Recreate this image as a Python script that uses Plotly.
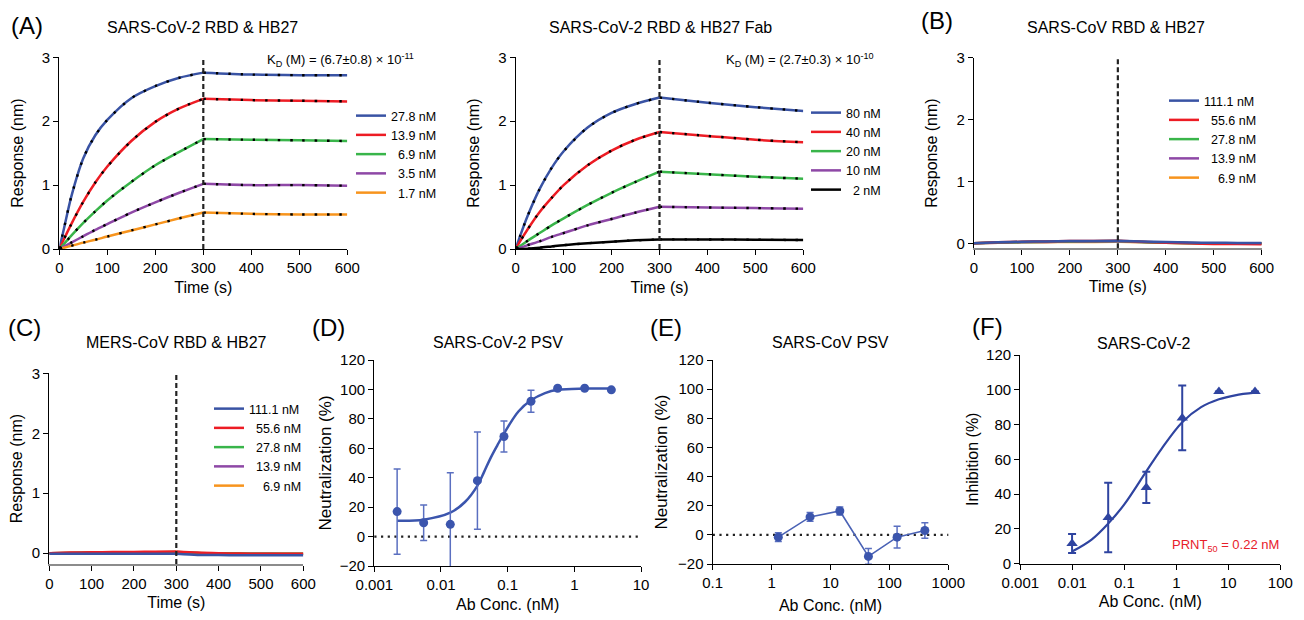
import plotly.graph_objects as go

W, H = 1304, 620
OX, OY = 8, 8  # page body margin of the exported html
FONT = "Arial, 'Liberation Sans', sans-serif"

# ---------------- data: binding kinetics ----------------
T_KIN = [0, 10, 25, 50, 75, 100, 150, 200, 250, 300, 400, 500, 600]
DISSOC_START = 300

A1_LABELS = ["27.8 nM", "13.9 nM", "\u00a0\u00a06.9 nM", "\u00a0\u00a03.5 nM", "\u00a0\u00a01.7 nM"]
A1_BLUE = [0, 0.33, 0.82, 1.42, 1.78, 2.02, 2.36, 2.55, 2.68, 2.76, 2.73, 2.72, 2.72]
A1_RED = [0, 0.16, 0.39, 0.74, 1.04, 1.29, 1.69, 1.99, 2.20, 2.35, 2.33, 2.32, 2.31]
A1_GREEN = [0, 0.08, 0.21, 0.41, 0.59, 0.76, 1.05, 1.31, 1.52, 1.72, 1.71, 1.70, 1.69]
A1_PURPLE = [0, 0.04, 0.10, 0.20, 0.30, 0.39, 0.57, 0.73, 0.88, 1.02, 1.00, 1.00, 0.99]
A1_ORANGE = [0, 0.02, 0.05, 0.10, 0.145, 0.195, 0.29, 0.385, 0.48, 0.57, 0.55, 0.54, 0.54]

FAB_LABELS = ["80 nM", "40 nM", "20 nM", "10 nM", "\u00a0\u00a02 nM"]
FAB_BLUE = [0, 0.22, 0.52, 0.94, 1.27, 1.53, 1.90, 2.13, 2.27, 2.37, 2.29, 2.22, 2.16]
FAB_RED = [0, 0.13, 0.31, 0.58, 0.80, 1.00, 1.31, 1.54, 1.71, 1.83, 1.77, 1.71, 1.67]
FAB_GREEN = [0, 0.05, 0.13, 0.25, 0.37, 0.48, 0.69, 0.88, 1.05, 1.21, 1.17, 1.13, 1.10]
FAB_PURPLE = [0, 0.02, 0.06, 0.12, 0.19, 0.25, 0.37, 0.47, 0.57, 0.66, 0.65, 0.64, 0.63]
FAB_BLACK = [0, 0.0, 0.005, 0.02, 0.04, 0.06, 0.09, 0.115, 0.135, 0.15, 0.15, 0.145, 0.14]

T_NB = [0, 50, 100, 150, 200, 250, 300, 350, 400, 450, 500, 550, 600]
NB_LABELS = ["111.1 nM", "\u00a0\u00a055.6 nM", "\u00a0\u00a027.8 nM", "\u00a0\u00a013.9 nM", "\u00a0\u00a0\u00a0\u00a06.9 nM"]
B_BLUE = [0, 0.015, 0.025, 0.03, 0.035, 0.037, 0.04, 0.03, 0.02, 0.012, 0.008, 0.006, 0.005]
B_RED = [0, 0.015, 0.025, 0.03, 0.035, 0.038, 0.04, 0.025, 0.01, 0.0, -0.01, -0.012, -0.015]
B_GREEN = [0, 0.012, 0.02, 0.025, 0.03, 0.032, 0.035, 0.02, 0.01, 0.002, -0.003, -0.005, -0.005]
B_PURPLE = [0, 0.01, 0.018, 0.022, 0.025, 0.027, 0.03, 0.02, 0.01, 0.005, 0.0, 0.0, 0.0]
B_ORANGE = [0, 0.008, 0.015, 0.018, 0.02, 0.022, 0.025, 0.015, 0.008, 0.003, 0.0, 0.0, 0.0]

C_BLUE = [-0.01, -0.01, -0.01, -0.01, -0.01, -0.01, -0.01, -0.03, -0.03, -0.035, -0.035, -0.035, -0.035]
C_RED = [0, 0.01, 0.015, 0.02, 0.022, 0.025, 0.03, 0.01, 0.0, -0.005, -0.01, -0.01, -0.01]
C_GREEN = [0, 0.005, 0.01, 0.012, 0.015, 0.017, 0.02, 0.005, 0.0, -0.005, -0.01, -0.01, -0.01]
C_PURPLE = [0, 0.005, 0.008, 0.01, 0.012, 0.014, 0.015, 0.0, -0.005, -0.01, -0.01, -0.012, -0.012]
C_ORANGE = [0, 0.003, 0.005, 0.008, 0.01, 0.01, 0.012, 0.0, -0.005, -0.008, -0.01, -0.01, -0.01]

# ---------------- data: neutralization ----------------
D_CONC = [0.0022, 0.0055, 0.0138, 0.0352, 0.088, 0.224, 0.562, 1.43, 3.59]
D_MEAN = [17, 9.4, 8.3, 38, 68, 92, 100.8, 100.8, 99.7]
D_ERR = [29, 12, 35, 33, 10.5, 7.5, 0, 0, 0]
D_FIT_X = [0.0022, 0.0055, 0.0138, 0.0229, 0.0351, 0.0442, 0.0556, 0.07, 0.088, 0.145, 0.224, 0.363, 0.562, 1.43, 3.59]
D_FIT_Y = [10.8, 11.5, 16.2, 23.5, 34.5, 43.8, 53.5, 62.0, 70.0, 85.0, 92.6, 97.5, 99.8, 100.6, 100.6]

E_CONC = [1.3, 4.5, 14.4, 44, 135, 400]
E_MEAN = [-1.6, 12.3, 16.4, -14.8, -1.6, 3]
E_ERR = [3, 3, 2.8, 5.4, 7.5, 5.3]

F_CONC = [0.0099, 0.049, 0.265, 1.3, 6.6, 32.6]
F_MEAN = [11.5, 26.5, 43.8, 83.8, 99, 99]
F_ERR = [5.5, 20, 9, 18.6, 0, 0]
F_FIT_X = [0.0099, 0.0235, 0.049, 0.1, 0.265, 0.52, 1.3, 3.0, 6.6, 13.5, 32.6]
F_FIT_Y = [6.9, 13.8, 23.0, 34.0, 53.0, 66.0, 81.3, 90.0, 94.5, 96.8, 98.3]

LOG_TICKS_D = [0.001, 0.01, 0.1, 1, 10]
LOG_TICKS_E = [0.1, 1, 10, 100, 1000]
LOG_TICKS_F = [0.001, 0.01, 0.1, 1, 10, 100]

# ---------------- styles ----------------
KIN_COLORS = ["#3953a4", "#ed1c24", "#39b54a", "#8e48a6", "#f7941d"]
FAB_COLORS = ["#3953a4", "#ed1c24", "#39b54a", "#8e48a6", "#000000"]
NEUT_BLUE = "#3b55ad"
ERR_BLUE = "#5a6fc0"
F_BLUE = "#2f44a0"


def fx(px):
    return (px - OX) / W


def fy(py):
    return 1 - (py - OY) / H


fig = go.Figure()


def add_kinetics(xa, ya, t, series, labels, colors, legend, fit=True, reverse_draw=False):
    i = t.index(DISSOC_START)
    order = list(range(len(series)))
    if reverse_draw:
        order = order[::-1]
    for k in order:
        vals = series[k]
        for phase, (ts, vs) in enumerate([(t[:i + 1], vals[:i + 1]), (t[i:], vals[i:])]):
            fig.add_trace(go.Scatter(
                x=ts, y=vs, mode="lines", name=labels[k], legend=legend,
                showlegend=(phase == 0), legendrank=k + 1,
                line=dict(color=colors[k], width=2.5, shape="spline", smoothing=0.8),
                xaxis=xa, yaxis=ya, hoverinfo="skip"))
    if fit:
        for k in order:
            vals = series[k]
            for ts, vs in [(t[:i + 1], vals[:i + 1]), (t[i:], vals[i:])]:
                fig.add_trace(go.Scatter(
                    x=ts, y=vs, mode="lines", showlegend=False,
                    line=dict(color="black", width=2.4, dash="2.4px,10px", shape="spline", smoothing=0.8),
                    xaxis=xa, yaxis=ya, hoverinfo="skip"))


add_kinetics("x", "y", T_KIN, [A1_BLUE, A1_RED, A1_GREEN, A1_PURPLE, A1_ORANGE], A1_LABELS, KIN_COLORS, "legend")
add_kinetics("x2", "y2", T_KIN, [FAB_BLUE, FAB_RED, FAB_GREEN, FAB_PURPLE, FAB_BLACK], FAB_LABELS, FAB_COLORS, "legend2")
add_kinetics("x3", "y3", T_NB, [B_BLUE, B_RED, B_GREEN, B_PURPLE, B_ORANGE], NB_LABELS, KIN_COLORS, "legend3",
             fit=False, reverse_draw=True)
add_kinetics("x4", "y4", T_NB, [C_BLUE, C_RED, C_GREEN, C_PURPLE, C_ORANGE], NB_LABELS, KIN_COLORS, "legend4",
             fit=False, reverse_draw=True)

# (D)
fig.add_trace(go.Scatter(x=D_FIT_X, y=D_FIT_Y, mode="lines", showlegend=False,
                         line=dict(color=NEUT_BLUE, width=2.5, shape="spline", smoothing=1.0),
                         xaxis="x5", yaxis="y5", hoverinfo="skip"))
fig.add_trace(go.Scatter(x=D_CONC, y=D_MEAN, mode="markers", showlegend=False,
                         marker=dict(color=NEUT_BLUE, size=9, symbol="circle"),
                         error_y=dict(type="data", array=D_ERR, color=ERR_BLUE, thickness=1.5, width=3.5),
                         xaxis="x5", yaxis="y5", hoverinfo="skip"))
# (E)
fig.add_trace(go.Scatter(x=E_CONC, y=E_MEAN, mode="lines+markers", showlegend=False,
                         line=dict(color="#4a62b5", width=1.6),
                         marker=dict(color=NEUT_BLUE, size=9, symbol="circle"),
                         error_y=dict(type="data", array=E_ERR, color=ERR_BLUE, thickness=1.5, width=3.5),
                         xaxis="x6", yaxis="y6", hoverinfo="skip"))
# (F)
fig.add_trace(go.Scatter(x=F_FIT_X, y=F_FIT_Y, mode="lines", showlegend=False,
                         line=dict(color=F_BLUE, width=2.2, shape="spline", smoothing=1.0),
                         xaxis="x7", yaxis="y7", hoverinfo="skip"))
fig.add_trace(go.Scatter(x=F_CONC, y=F_MEAN, mode="markers", showlegend=False,
                         marker=dict(color=F_BLUE, size=10, symbol="triangle-up"),
                         error_y=dict(type="data", array=F_ERR, color=F_BLUE, thickness=2, width=4),
                         xaxis="x7", yaxis="y7", hoverinfo="skip"))


def ax(title_size=16, **kw):
    d = dict(showline=True, linecolor="black", linewidth=1.3, ticks="outside", ticklen=5,
             tickwidth=1.3, tickcolor="black", showgrid=False, zeroline=False, automargin=False,
             tickfont=dict(size=15, color="black", family=FONT),
             title_font=dict(size=title_size, color="black", family=FONT))
    d.update(kw)
    return d


time_ticks = dict(tickmode="array", tickvals=[0, 100, 200, 300, 400, 500, 600])
resp_ticks = dict(tickmode="array", tickvals=[0, 1, 2, 3])
neut_ticks = dict(tickmode="array", tickvals=[-20, 0, 20, 40, 60, 80, 100, 120])

layout = dict(
    template="none",
    width=W, height=H, margin=dict(l=0, r=0, t=0, b=0, pad=0), autosize=False,
    paper_bgcolor="white", plot_bgcolor="white",
    font=dict(family=FONT, color="black", size=15),
    xaxis=ax(domain=[fx(59.3), fx(347.3)], range=[0, 600], anchor="y",
             title=dict(text="Time (s)", standoff=6), **time_ticks),
    yaxis=ax(domain=[fy(249), fy(57.3)], range=[0, 3], anchor="x",
             title=dict(text="Response (nm)", standoff=14), **resp_ticks),
    xaxis2=ax(domain=[fx(515.7), fx(803.3)], range=[0, 600], anchor="y2",
              title=dict(text="Time (s)", standoff=6), **time_ticks),
    yaxis2=ax(domain=[fy(249), fy(57.3)], range=[0, 3], anchor="x2",
              title=dict(text="Response (nm)", standoff=14), **resp_ticks),
    xaxis3=ax(domain=[fx(974), fx(1261.7)], range=[0, 600], anchor="y3", linecolor="#8c8c8c", linewidth=1.6,
              title=dict(text="Time (s)", standoff=6), **time_ticks),
    yaxis3=ax(domain=[fy(248.3), fy(57.7)], range=[-0.081, 3], anchor="x3",
              title=dict(text="Response (nm)", standoff=14), **resp_ticks),
    xaxis4=ax(domain=[fx(49.3), fx(303.3)], range=[0, 600], anchor="y4", linecolor="#8c8c8c", linewidth=1.6,
              title=dict(text="Time (s)", standoff=6), **time_ticks),
    yaxis4=ax(domain=[fy(564), fy(373.3)], range=[-0.18, 3], anchor="x4",
              title=dict(text="Response (nm)", standoff=14), **resp_ticks),
    xaxis5=ax(domain=[fx(374.3), fx(641)], type="log", range=[-3, 1], anchor="y5",
              tickmode="array", tickvals=LOG_TICKS_D, ticktext=[str(v) for v in LOG_TICKS_D],
              title=dict(text="Ab Conc. (nM)", standoff=6)),
    yaxis5=ax(title_size=17, domain=[fy(566), fy(360)], range=[-20, 120], anchor="x5",
              title=dict(text="Neutralization (%)", standoff=3), **neut_ticks),
    xaxis6=ax(domain=[fx(712.7), fx(948.3)], type="log", range=[-1, 3], anchor="y6",
              tickmode="array", tickvals=LOG_TICKS_E, ticktext=[str(v) for v in LOG_TICKS_E],
              title=dict(text="Ab Conc. (nM)", standoff=9)),
    yaxis6=ax(title_size=17, domain=[fy(564), fy(360)], range=[-20, 120], anchor="x6",
              title=dict(text="Neutralization (%)", standoff=6), **neut_ticks),
    xaxis7=ax(domain=[fx(1020.3), fx(1280.3)], type="log", range=[-3, 2], anchor="y7",
              tickmode="array", tickvals=LOG_TICKS_F, ticktext=[str(v) for v in LOG_TICKS_F],
              title=dict(text="Ab Conc. (nM)", standoff=6)),
    yaxis7=ax(domain=[fy(563.5), fy(355)], range=[0, 120], anchor="x7",
              title=dict(text="Inhibition (%)", standoff=3),
              tickmode="array", tickvals=[0, 20, 40, 60, 80, 100, 120]),
)

leg_common = dict(xanchor="left", yanchor="top", bgcolor="rgba(0,0,0,0)", borderwidth=0,
                  font=dict(size=12.5, color="black", family=FONT), itemwidth=30, tracegroupgap=0)
layout["legend"] = dict(x=fx(351), y=fy(101), **leg_common)
layout["legend2"] = dict(x=fx(806), y=fy(98), **leg_common)
layout["legend3"] = dict(x=fx(1164), y=fy(86), **leg_common)
layout["legend4"] = dict(x=fx(209), y=fy(394), **leg_common)

fig.update_layout(**layout)

# dashed dissociation-start markers
for xr, yr in [("x", "y"), ("x2", "y2"), ("x3", "y3"), ("x4", "y4")]:
    fig.add_shape(type="line", xref=xr, yref=yr + " domain", x0=DISSOC_START, x1=DISSOC_START, y0=0, y1=1,
                  line=dict(color="#222222", width=2.2, dash="5px,3px"), layer="above")
# dotted zero lines
for xr, yr in [("x5", "y5"), ("x6", "y6")]:
    fig.add_shape(type="line", xref=xr + " domain", yref=yr, x0=0, x1=1, y0=0, y1=0,
                  line=dict(color="#222222", width=2.2, dash="2.2px,4.5px"), layer="below")


def note(text, px, py, size=16, color="black", xanchor="center"):
    fig.add_annotation(text=text, x=fx(px), y=fy(py), xref="paper", yref="paper", showarrow=False,
                       xanchor=xanchor, yanchor="middle", font=dict(size=size, color=color, family=FONT))


note("(A)", 27, 25, size=24)
note("(B)", 937, 20, size=24)
note("(C)", 24, 327, size=24)
note("(D)", 328, 327, size=24)
note("(E)", 666, 327, size=24)
note("(F)", 987, 326, size=24)
note("SARS-CoV-2 RBD &amp; HB27", 202, 28)
note("SARS-CoV-2 RBD &amp; HB27 Fab", 660, 28)
note("SARS-CoV RBD &amp; HB27", 1116, 28)
note("MERS-CoV RBD &amp; HB27", 176, 342)
note("SARS-CoV-2 PSV", 498, 342)
note("SARS-CoV PSV", 830, 342)
note("SARS-CoV-2", 1143, 343)
note("K<sub>D</sub> (M) = (6.7±0.8) × 10<sup>-11</sup>", 265, 60, size=13, xanchor="left")
note("K<sub>D</sub> (M) = (2.7±0.3) × 10<sup>-10</sup>", 724, 60, size=13, xanchor="left")
note("PRNT<sub>50</sub> = 0.22 nM", 1170, 545, size=13, color="#e8202a", xanchor="left")

fig.write_html("out.html")
